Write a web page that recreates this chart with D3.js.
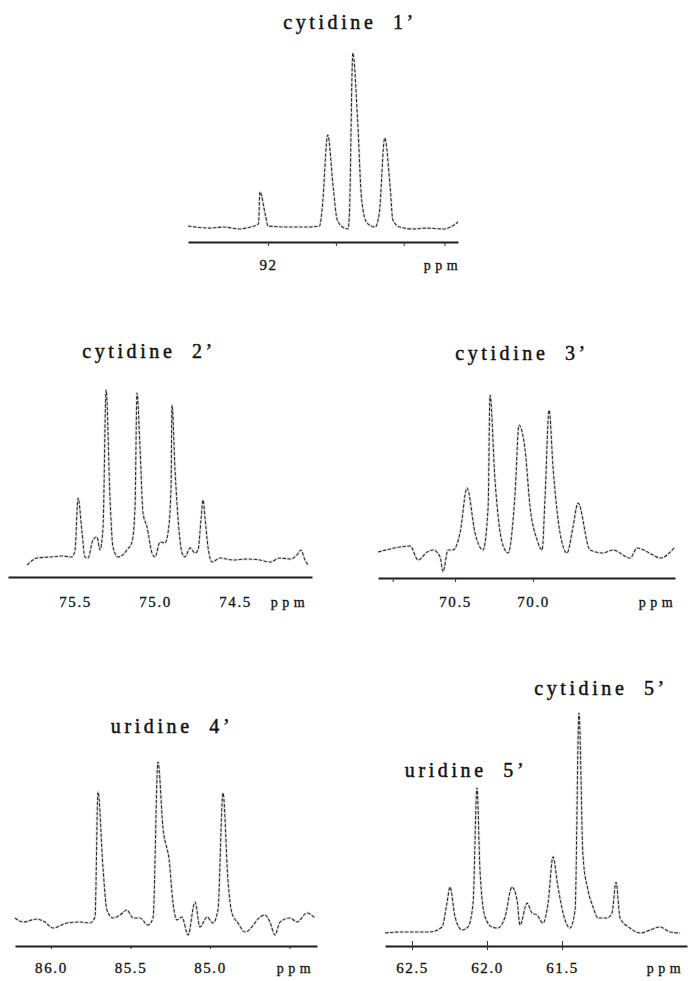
<!DOCTYPE html>
<html>
<head>
<meta charset="utf-8">
<script src="https://cdn.jsdelivr.net/npm/d3@7"></script>
<style>
  body { margin: 0; background: #fff; }
  svg { display: block; }
</style>
</head>
<body>
<script>
// --- data (ppm, relative intensity) ---
const titles = ['cytidine 1’', 'cytidine 2’', 'cytidine 3’', 'uridine 4’', 'cytidine 5’', 'uridine 5’'];

// cytidine 1'
const c1Ppm = [92.59, 92.43, 92.33, 92.21, 92.13, 92.07, 92.06, 92.02, 92.00, 91.84, 91.71, 91.62, 91.60, 91.56, 91.52, 91.49, 91.45, 91.41, 91.40, 91.375, 91.34, 91.31, 91.27, 91.21, 91.18, 91.14, 91.10, 91.08, 91.03, 90.93, 90.83, 90.71, 90.64, 90.60];
const c1Int = [0, -1.2, -0.6, -1.7, -0.6, 1.2, 19.7, 6.4, 0, -0.6, -0.6, 0, 11.0, 52.6, 22.5, 3.5, -0.6, -1.7, 7.5, 100, 61.3, 15.0, 1.7, -0.6, 7.5, 50.9, 22.5, 3.5, -0.6, -1.7, -1.2, -1.7, 0, 2.3];
const c1Domain = [92.59, 90.60];
const c1Ticks = [92, 91.5, 91.0, 90.7];
const c1TickLabels = ['92', '', '', ''];

// cytidine 2'
const c2Ppm = [75.800, 75.738, 75.656, 75.581, 75.519, 75.500, 75.481, 75.456, 75.438, 75.419, 75.388, 75.363, 75.344, 75.325, 75.306, 75.281, 75.263, 75.231, 75.175, 75.144, 75.125, 75.113, 75.094, 75.075, 75.050, 75.019, 75.000, 74.969, 74.938, 74.919, 74.900, 74.894, 74.875, 74.863, 74.831, 74.813, 74.781, 74.750, 74.731, 74.713, 74.700, 74.688, 74.669, 74.644, 74.594, 74.513, 74.425, 74.344, 74.281, 74.219, 74.156, 74.113, 74.088, 74.063, 74.044];
const c2Int = [-4.2, 0, 0.6, 1.2, 0.6, 4.8, 35.7, 14.9, 0.6, 0, 10.7, 12.5, 4.8, 18.4, 100, 34.5, 6.5, 0.6, 4.8, 9.5, 30.3, 98.2, 66.0, 26.8, 18.4, 3.0, 0.6, 9.5, 8.9, 14.9, 42.2, 91.0, 52.4, 32.7, 3.0, 0.6, 6.0, 3.0, 4.8, 22.6, 34.5, 24.4, 6.5, -2.4, 0, -1.2, -0.6, -1.2, -2.4, 0, -0.6, 1.8, 4.8, -1.2, -4.2];
const c2Domain = [75.919, 74.019];
const c2Ticks = [75.5, 75.0, 74.5];
const c2TickLabels = ['75.5', '75.0', '74.5'];

// cytidine 3'
const c3Ppm = [70.994, 70.853, 70.788, 70.737, 70.679, 70.641, 70.596, 70.577, 70.545, 70.513, 70.468, 70.423, 70.372, 70.321, 70.288, 70.276, 70.244, 70.199, 70.160, 70.115, 70.090, 70.051, 70.019, 69.974, 69.942, 69.923, 69.897, 69.872, 69.827, 69.782, 69.744, 69.712, 69.635, 69.551, 69.487, 69.378, 69.333, 69.231, 69.186, 69.090];
const c3Int = [-1.3, 1.9, 2.6, -6.5, -1.3, 0, -4.5, -14, 0, 0, 11.0, 40.0, 11.0, 0, 27.7, 100, 45.2, 5.2, -1.9, 36.8, 80.6, 64.5, 27.7, 6.5, 0, 34.2, 90.3, 53.5, 11.0, -1.9, 14.8, 30.3, 0, -1.9, 0, -5.2, 1.3, -3.2, -5.2, 1.9];
const c3Domain = [70.994, 69.090];
const c3Ticks = [70.9, 70.5, 70.0];
const c3TickLabels = ['', '70.5', '70.0'];

// uridine 4'
const u4Ppm = [86.226, 86.176, 86.088, 86.038, 85.987, 85.899, 85.818, 85.755, 85.723, 85.704, 85.673, 85.648, 85.610, 85.566, 85.522, 85.484, 85.440, 85.390, 85.358, 85.327, 85.296, 85.252, 85.239, 85.208, 85.176, 85.138, 85.094, 85.063, 85.019, 84.981, 84.950, 84.918, 84.887, 84.862, 84.824, 84.780, 84.736, 84.704, 84.654, 84.623, 84.591, 84.560, 84.497, 84.453, 84.390, 84.340];
const u4Int = [1.3, -1.3, 0.6, -1.3, -5.1, -1.9, -1.3, -1.9, 1.9, 81.0, 33.5, 6.3, 1.3, 3.2, 6.3, 1.3, 1.3, -3.2, 1.3, 100, 58.9, 33.5, 17.1, 0, 1.9, -9.5, 11.4, -4.4, 1.9, -1.9, 6.3, 80.4, 25.3, 4.4, -1.9, -7.6, -4.4, 0, 3.2, -1.3, -9.5, -1.3, 1.3, -1.3, 4.4, 1.3];
const u4Domain = [86.226, 84.327];
const u4Ticks = [86.0, 85.5, 85.0, 84.5];
const u4TickLabels = ['86.0', '85.5', '85.0', ''];

// uridine 5' / cytidine 5'
const c5Ppm = [62.680, 62.580, 62.493, 62.380, 62.300, 62.267, 62.247, 62.213, 62.167, 62.127, 62.093, 62.067, 62.047, 62.013, 61.967, 61.927, 61.880, 61.833, 61.800, 61.780, 61.733, 61.700, 61.667, 61.627, 61.593, 61.560, 61.527, 61.480, 61.447, 61.413, 61.387, 61.360, 61.327, 61.293, 61.260, 61.200, 61.167, 61.140, 61.113, 61.047, 60.980, 60.913, 60.847, 60.780, 60.713];
const c5Int = [-1.4, -0.9, -0.9, -0.9, 1.4, 12.4, 19.8, 6.0, 0, 1.4, 12.4, 65.5, 27.7, 6.0, 1.4, 0.9, 6.0, 19.8, 13.8, 2.3, 12.4, 7.8, 6.9, 3.2, 12.4, 33.7, 19.8, 4.6, 0.9, 9.2, 100, 33.7, 18.4, 10.6, 5.5, 5.5, 7.8, 22.0, 5.5, 0.9, -1.4, 0, 1.4, -0.9, -1.4];
const c5Domain = [62.68, 60.667];
const c5Ticks = [62.5, 62.0, 61.5];
const c5TickLabels = ['62.5', '62.0', '61.5'];

// --- layout of the five panels ---
const panels = [
    { ppm: c1Ppm, int: c1Int, domain: c1Domain, ticks: c1Ticks, labels: c1TickLabels,
      x: [188, 458], axisY: 242, baseY: 226, topY: 53, labelY: 270, tickUp: 0, tickDown: 4, ppmX: 443,
      titles: [{ text: titles[0], x: 350, y: 29 }] },
    { ppm: c2Ppm, int: c2Int, domain: c2Domain, ticks: c2Ticks, labels: c2TickLabels,
      x: [8, 312], axisY: 577, baseY: 558, topY: 390, labelY: 607, tickUp: 0, tickDown: 0, ppmX: 290,
      titles: [{ text: titles[1], x: 149, y: 358 }] },
    { ppm: c3Ppm, int: c3Int, domain: c3Domain, ticks: c3Ticks, labels: c3TickLabels,
      x: [378, 675], axisY: 578, baseY: 550, topY: 395, labelY: 607, tickUp: 0, tickDown: 4, ppmX: 658,
      titles: [{ text: titles[2], x: 522, y: 360 }] },
    { ppm: u4Ppm, int: u4Int, domain: u4Domain, ticks: u4Ticks, labels: u4TickLabels,
      x: [15, 317], axisY: 946, baseY: 920, topY: 762, labelY: 973, tickUp: 0, tickDown: 3, ppmX: 296,
      titles: [{ text: titles[3], x: 172, y: 733 }] },
    { ppm: c5Ppm, int: c5Int, domain: c5Domain, ticks: c5Ticks, labels: c5TickLabels,
      x: [385, 687], axisY: 946, baseY: 930, topY: 713, labelY: 973, tickUp: 5, tickDown: 4, ppmX: 666,
      titles: [{ text: titles[4], x: 601, y: 695 }, { text: titles[5], x: 466, y: 777 }] }
];

const serif = "'Liberation Serif', 'Times New Roman', serif";

const svg = d3.select('body').append('svg')
    .attr('width', 688).attr('height', 981);

panels.forEach(drawPanel);

function drawPanel(p) {
    const xScale = d3.scaleLinear().domain(p.domain).range(p.x);
    const yScale = d3.scaleLinear().domain([0, 100]).range([p.baseY, p.topY]);
    const g = svg.append('g');

    // spectrum trace (light smear underneath, broken dark line on top)
    const line = d3.line()
        .x((d, i) => xScale(p.ppm[i]))
        .y(d => yScale(d))
        .curve(d3.curveMonotoneX);
    g.append('path').datum(p.int)
        .attr('d', line)
        .attr('fill', 'none')
        .attr('stroke', '#ececec')
        .attr('stroke-width', 3);
    g.append('path').datum(p.int)
        .attr('d', line)
        .attr('fill', 'none')
        .attr('stroke', '#2a2a2a')
        .attr('stroke-width', 1.1)
        .attr('stroke-dasharray', '3.5,1.5');

    // ppm axis
    const xAxis = d3.axisBottom(xScale)
        .tickValues(p.ticks)
        .tickFormat((d, i) => p.labels[i])
        .tickSizeInner(p.tickDown)
        .tickSizeOuter(0);
    const axisG = g.append('g')
        .attr('transform', `translate(0,${p.axisY})`)
        .call(xAxis)
        .attr('font-family', serif)
        .attr('font-size', 15);
    axisG.select('.domain').attr('stroke', '#1e1e1e').attr('stroke-width', 1.8);
    axisG.selectAll('.tick line').attr('stroke', '#333').attr('y1', -p.tickUp);
    axisG.selectAll('.tick text')
        .attr('y', p.labelY - p.axisY).attr('dy', 0)
        .attr('fill', '#111')
        .attr('stroke', '#111').attr('stroke-width', 0.3)
        .style('letter-spacing', '1.6px');

    g.append('text')
        .attr('x', p.ppmX).attr('y', p.labelY)
        .attr('text-anchor', 'middle')
        .attr('font-family', serif).attr('font-size', 14)
        .style('letter-spacing', '4.5px')
        .attr('fill', '#111')
        .attr('stroke', '#111').attr('stroke-width', 0.3)
        .text('ppm');

    // titles
    p.titles.forEach(t => {
        g.append('text')
            .attr('x', t.x).attr('y', t.y)
            .attr('text-anchor', 'middle')
            .attr('font-family', serif).attr('font-size', 20)
            .style('letter-spacing', '3.6px')
            .style('word-spacing', '8px')
            .attr('fill', '#111')
            .attr('stroke', '#111').attr('stroke-width', 0.45)
            .text(t.text);
    });
}
</script>
</body>
</html>
